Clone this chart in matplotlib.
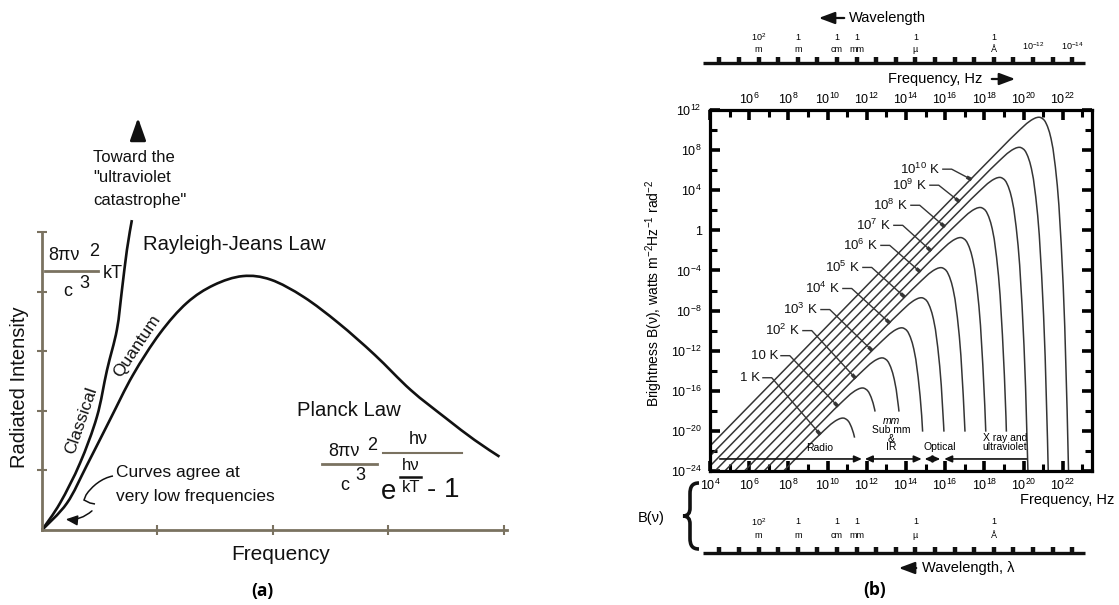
import numpy as np
import matplotlib
matplotlib.use("Agg")
import matplotlib.pyplot as plt
import matplotlib.transforms as mtransforms
from matplotlib.path import Path
from matplotlib.patches import PathPatch
from matplotlib.ticker import NullFormatter, NullLocator

plt.rcParams['font.family'] = ['Liberation Sans', 'DejaVu Sans']
plt.rcParams['mathtext.fontset'] = 'custom'
plt.rcParams['mathtext.rm'] = 'Liberation Sans'
plt.rcParams['mathtext.it'] = 'Liberation Sans:italic'
plt.rcParams['mathtext.bf'] = 'Liberation Sans:bold'
plt.rcParams['mathtext.default'] = 'regular'

# ---------------- data: panel (a) ----------------
classical_freq = [0.0, 0.156, 0.329, 0.476, 0.563, 0.649, 0.693, 0.736, 0.779]
classical_intensity = [0.0, 0.45, 1.12, 1.90, 2.68, 3.36, 4.03, 4.70, 5.20]
quantum_freq = [0.0, 0.216, 0.390, 0.589, 0.788, 1.022, 1.255, 1.489, 1.740,
                1.983, 2.268, 2.571, 2.883, 3.195, 3.498, 3.749, 3.965]
quantum_intensity = [0.0, 0.45, 1.09, 1.85, 2.60, 3.30, 3.81, 4.11, 4.26,
                     4.20, 3.91, 3.47, 2.94, 2.35, 1.88, 1.51, 1.23]
a_xticks = [1, 2, 3, 4]
a_yticks = [1, 2, 3, 4, 5]

# ---------------- data: panel (b) ----------------
temp_labels = ['1 K', '10 K', r'$10^2$ K', r'$10^3$ K', r'$10^4$ K', r'$10^5$ K',
               r'$10^6$ K', r'$10^7$ K', r'$10^8$ K', r'$10^9$ K', r'$10^{10}$ K']
peak_log_freq = [10.77, 11.77, 12.77, 13.77, 14.77, 15.77, 16.77, 17.77, 18.77, 19.77, 20.77]
peak_log_B = [-18.72, -15.72, -12.72, -9.72, -6.72, -3.72, -0.72, 2.28, 5.28, 8.28, 11.28]
end_log_B = [-20.6, -18.0, -18.0, -20.0, -20.0, -20.0, -20.0, -20.0, -30.0, -30.0, -30.0]
# common curve shape read relative to each peak (log10 offsets)
shape_dlogf = [-17.0, -3.0, -1.45, -0.97, -0.75, -0.61, -0.45, -0.37, -0.27, -0.15,
               -0.05, 0.0, 0.07, 0.15, 0.25, 0.33, 0.39, 0.45, 0.55, 0.63, 0.73,
               0.85, 0.95, 1.03, 1.15, 1.25, 1.33, 1.39, 1.45, 1.50, 1.55]
shape_dlogB = [-33.25, -5.25, -2.17, -1.27, -0.87, -0.62, -0.39, -0.28, -0.17, -0.06,
               -0.01, 0.0, -0.01, -0.08, -0.22, -0.42, -0.66, -0.92, -1.50, -2.13, -3.14,
               -4.94, -6.82, -8.75, -12.72, -16.77, -20.88, -25.02, -29.19, -33.38, -37.58]
label_log_freq = [6.55, 7.47, 8.59, 9.51, 10.63, 11.65, 12.57, 13.23, 14.10, 15.07, 15.73]
label_log_B = [-14.7, -12.5, -10.0, -7.9, -5.8, -3.7, -1.5, 0.5, 2.5, 4.5, 6.1]
leader_end_log_freq = [9.6, 10.5, 11.4, 12.25, 13.15, 13.9, 14.7, 15.25, 15.95, 16.7, 17.3]
leader_end_log_B = [-20.3, -17.5, -14.7, -11.95, -9.2, -6.6, -4.1, -2.0, 0.4, 2.9, 5.1]

band_start_log_freq = [4.5, 11.9, 14.95, 15.95]
band_end_log_freq = [11.75, 14.8, 15.75, 20.15]
band_styles = ['-|>', '<|-|>', '<|-|>', '<|-']
band_arrow_log_B = -22.8

freq_label_exps = [4, 6, 8, 10, 12, 14, 16, 18, 20, 22]
freq_minor_exps = [5, 7, 9, 11, 13, 15, 17, 19, 21, 23]
top_freq_label_exps = [6, 8, 10, 12, 14, 16, 18, 20, 22]
b_ytick_exps = [12, 8, 4, 0, -4, -8, -12, -16, -20, -24]
b_ytick_labels = [r'$10^{12}$', r'$10^{8}$', r'$10^{4}$', '1', r'$10^{-4}$', r'$10^{-8}$',
                  r'$10^{-12}$', r'$10^{-16}$', r'$10^{-20}$', r'$10^{-24}$']
b_yminor_exps = [10, 6, 2, -2, -6, -10, -14, -18, -22]

wavelength_ticks_m = [1e4, 1e3, 1e2, 1e1, 1.0, 1e-1, 1e-2, 1e-3, 1e-4, 1e-5, 1e-6, 1e-7,
                      1e-8, 1e-9, 1e-10, 1e-11, 1e-12, 1e-13, 1e-14]
wl_label_values_m = [1e2, 1.0, 1e-2, 1e-3, 1e-6, 1e-10]
wl_label_upper = [r'$10^2$', '1', '1', '1', '1', '1']
wl_label_lower = ['m', 'm', 'cm', 'mm', 'µ', 'Å']
wl_extra_top_values_m = [1e-12, 1e-14]
wl_extra_top_labels = [r'$10^{-12}$', r'$10^{-14}$']
SPEED_OF_LIGHT = 3.0e8

# ---------------- figure ----------------
W, H = 1119, 605
fig = plt.figure(figsize=(W / 100, H / 100), dpi=100)
pix = mtransforms.Affine2D().scale(1.0 / W, -1.0 / H).translate(0, 1) + fig.transFigure


def fx(x):
    return x / W


def fy(y):
    return 1 - y / H


def smooth_path(xs, ys):
    P = np.column_stack([xs, ys]).astype(float)
    n = len(P)
    verts = [P[0]]
    codes = [Path.MOVETO]
    for i in range(n - 1):
        p0 = P[i - 1] if i > 0 else P[i]
        p1, p2 = P[i], P[i + 1]
        p3 = P[i + 2] if i + 2 < n else P[i + 1]
        verts += [p1 + (p2 - p0) / 6.0, p2 - (p3 - p1) / 6.0, p2]
        codes += [Path.CURVE4] * 3
    return Path(verts, codes)


BROWN = '#7a7260'
INK = '#111111'

# ================= panel (a) =================
ax_a = fig.add_axes([fx(42), fy(530), (507 - 42) / W, (530 - 232) / H])
ax_a.set_xlim(0, 4.03)
ax_a.set_ylim(0, 5)
ax_a.patch.set_visible(False)
for s in ['top', 'right']:
    ax_a.spines[s].set_visible(False)
for s in ['left', 'bottom']:
    ax_a.spines[s].set_color(BROWN)
    ax_a.spines[s].set_linewidth(2.0)
ax_a.set_xticks(a_xticks)
ax_a.set_yticks(a_yticks)
ax_a.tick_params(direction='inout', length=7, width=1.5, color=BROWN,
                 labelbottom=False, labelleft=False)
ax_a.add_patch(PathPatch(smooth_path(classical_freq, classical_intensity), fill=False,
                         lw=1.9, ec=INK, clip_on=False, transform=ax_a.transData))
ax_a.add_patch(PathPatch(smooth_path(quantum_freq, quantum_intensity), fill=False,
                         lw=1.9, ec=INK, clip_on=False, transform=ax_a.transData))

fig.text(20, 387, 'Radiated Intensity', transform=pix, rotation=90, ha='center',
         va='center', fontsize=14.5, color=INK)
fig.text(281, 555, 'Frequency', transform=pix, ha='center', va='center', fontsize=15,
         color=INK)
fig.text(143, 245, 'Rayleigh-Jeans Law', transform=pix, ha='left', va='center',
         fontsize=14.6, color=INK)
fig.text(297, 410, 'Planck Law', transform=pix, ha='left', va='center', fontsize=14.6,
         color=INK)
for txt, yy in [('Toward the', 157), ('"ultraviolet', 178), ('catastrophe"', 200)]:
    fig.text(93, yy, txt, transform=pix, ha='left', va='center', fontsize=12, color=INK)
fig.text(116, 473, 'Curves agree at', transform=pix, ha='left', va='center',
         fontsize=12.5, color=INK)
fig.text(116, 496, 'very low frequencies', transform=pix, ha='left', va='center',
         fontsize=12.5, color=INK)
fig.text(81, 421, 'Classical', transform=pix, ha='center', va='center', rotation=71,
         rotation_mode='anchor', fontsize=12.5, color=INK)
fig.text(137, 346, 'Quantum', transform=pix, ha='center', va='center', rotation=56,
         rotation_mode='anchor', fontsize=12.5, color=INK)

# arrow toward the ultraviolet catastrophe
fig.patches.append(matplotlib.patches.FancyArrowPatch(
    (138, 143), (138, 115), transform=pix, arrowstyle='-|>,head_length=0.85,head_width=0.3',
    mutation_scale=16, lw=2.0, color=INK))

# squiggle arrow from "Curves agree"
squig = Path([(113, 476), (102, 478), (92, 486), (86, 495), (84, 500), (90, 503), (95, 504)],
             [Path.MOVETO, Path.CURVE4, Path.CURVE4, Path.CURVE4, Path.LINETO, Path.LINETO,
              Path.LINETO])
fig.patches.append(PathPatch(squig, fill=False, lw=1.1, ec=INK, transform=pix))
fig.patches.append(matplotlib.patches.FancyArrowPatch(
    (94, 509), (63, 519), transform=pix, connectionstyle='arc3,rad=-0.25',
    arrowstyle='-|>,head_length=0.5,head_width=0.22', mutation_scale=14, lw=1.1, color=INK))

# left formula: 8 pi nu^2 / c^3 kT
fig.text(64, 256, '8πν', transform=pix, ha='center', va='center', fontsize=13, color=INK)
fig.text(94, 251, '2', transform=pix, ha='center', va='center', fontsize=13, color=INK)
fig.lines.append(plt.Line2D([45, 98], [271, 271], transform=pix, color=BROWN, lw=2.0))
fig.text(68, 291, 'c', transform=pix, ha='center', va='center', fontsize=13, color=INK)
fig.text(84, 283, '3', transform=pix, ha='center', va='center', fontsize=13, color=INK)
fig.text(113, 273, 'kT', transform=pix, ha='center', va='center', fontsize=13, color=INK)

# right formula: Planck
fig.text(344, 451, '8πν', transform=pix, ha='center', va='center', fontsize=13, color=INK)
fig.text(372, 446, '2', transform=pix, ha='center', va='center', fontsize=13, color=INK)
fig.lines.append(plt.Line2D([322, 377], [464, 464], transform=pix, color=BROWN, lw=2.0))
fig.text(345, 485, 'c', transform=pix, ha='center', va='center', fontsize=13, color=INK)
fig.text(360, 475, '3', transform=pix, ha='center', va='center', fontsize=13, color=INK)
fig.text(418, 440, 'hν', transform=pix, ha='center', va='center', fontsize=13, color=INK)
fig.lines.append(plt.Line2D([383, 462], [453, 453], transform=pix, color=BROWN, lw=1.5))
fig.text(389, 492, 'e', transform=pix, ha='center', va='center', fontsize=20, color=INK)
fig.text(411, 466, 'hν', transform=pix, ha='center', va='center', fontsize=12, color=INK)
fig.lines.append(plt.Line2D([400, 421], [477, 477], transform=pix, color=INK, lw=1.8))
fig.text(411, 487, 'kT', transform=pix, ha='center', va='center', fontsize=12, color=INK)
fig.text(443, 490, '- 1', transform=pix, ha='center', va='center', fontsize=20, color=INK)

fig.text(262, 591, '(a)', transform=pix, ha='center', va='center', fontsize=12.5,
         fontweight='bold', family=['Open Sans', 'DejaVu Sans'])

# ================= panel (b) =================
ax_b = fig.add_axes([fx(710), fy(471), (1092 - 710) / W, (471 - 110) / H])
ax_b.set_xscale('log')
ax_b.set_yscale('log')
CURVE = '#353535'

dlf = np.array(shape_dlogf)
dlb = np.array(shape_dlogB)
for k in range(len(temp_labels)):
    lf = peak_log_freq[k] + dlf
    lb = peak_log_B[k] + dlb
    below = np.where((dlf > 0) & (lb < end_log_B[k]))[0]
    if len(below):
        i = below[0]
        t = (end_log_B[k] - lb[i - 1]) / (lb[i] - lb[i - 1])
        xe = lf[i - 1] + t * (lf[i] - lf[i - 1])
        lf = np.append(lf[:i], xe)
        lb = np.append(lb[:i], end_log_B[k])
    ax_b.plot(10.0 ** lf, 10.0 ** lb, color=CURVE, lw=1.1)

PXX, PXY = 382 / 19.49, 361 / 36.0
for k in range(len(temp_labels)):
    lx, ly = label_log_freq[k], label_log_B[k]
    ex, ey = leader_end_log_freq[k], leader_end_log_B[k]
    ax_b.text(10.0 ** lx, 10.0 ** ly, temp_labels[k], ha='right', va='center',
              fontsize=9.5, color=INK)
    kx = lx + 0.6
    ax_b.plot(10.0 ** np.array([lx + 0.15, kx, ex]), 10.0 ** np.array([ly, ly, ey]),
              color=CURVE, lw=1.0)
    ddx, ddy = (ex - kx) * PXX, (ey - ly) * PXY
    L = np.hypot(ddx, ddy)
    ux, uy = ddx / L, ddy / L
    ax_b.plot([10.0 ** (ex - ux * 4.5 / PXX), 10.0 ** (ex + ux * 1.0 / PXX)],
              [10.0 ** (ey - uy * 4.5 / PXY), 10.0 ** (ey + uy * 1.0 / PXY)],
              color=CURVE, lw=2.6, solid_capstyle='butt')

for s, e, st in zip(band_start_log_freq, band_end_log_freq, band_styles):
    ax_b.annotate('', xy=(10.0 ** e, 10.0 ** band_arrow_log_B),
                  xytext=(10.0 ** s, 10.0 ** band_arrow_log_B),
                  arrowprops=dict(arrowstyle=st + ',head_length=0.45,head_width=0.2',
                                  mutation_scale=10, lw=1.2, color=INK,
                                  shrinkA=0, shrinkB=0))
BF = 7.5
ax_b.text(10.0 ** 9.61, 10.0 ** -21.7, 'Radio', ha='center', va='center', fontsize=BF)
ax_b.text(10.0 ** 13.25, 10.0 ** -19.0, 'mm', ha='center', va='center', fontsize=BF,
          style='italic')
ax_b.text(10.0 ** 13.25, 10.0 ** -19.9, 'Sub mm', ha='center', va='center', fontsize=BF)
ax_b.text(10.0 ** 13.25, 10.0 ** -20.8, '&', ha='center', va='center', fontsize=BF)
ax_b.text(10.0 ** 13.25, 10.0 ** -21.6, 'IR', ha='center', va='center', fontsize=BF)
ax_b.text(10.0 ** 15.73, 10.0 ** -21.6, 'Optical', ha='center', va='center', fontsize=BF)
ax_b.text(10.0 ** 19.05, 10.0 ** -20.7, 'X ray and', ha='center', va='center', fontsize=BF)
ax_b.text(10.0 ** 19.05, 10.0 ** -21.6, 'ultraviolet', ha='center', va='center', fontsize=BF)

ax_b.set_xlim(1e4, 10 ** 23.49)
ax_b.set_ylim(1e-24, 1e12)
ax_b.set_xticks(10.0 ** np.array(freq_label_exps),
                labels=[r'$10^{%d}$' % e for e in freq_label_exps])
ax_b.set_xticks(10.0 ** np.array(freq_minor_exps), minor=True)
ax_b.set_yticks(10.0 ** np.array(b_ytick_exps), labels=b_ytick_labels)
ax_b.set_yticks(10.0 ** np.array(b_yminor_exps), minor=True)
ax_b.xaxis.set_minor_formatter(NullFormatter())
ax_b.yaxis.set_minor_formatter(NullFormatter())
ax_b.tick_params(which='major', direction='in', length=7, width=2.6, top=True, right=True,
                 labelsize=9, pad=5)
ax_b.tick_params(which='minor', direction='in', length=5, width=2.2, top=True, right=True)
ax_b.tick_params(axis='y', which='major', pad=6)
for s in ax_b.spines.values():
    s.set_linewidth(2.3)

secax = ax_b.secondary_xaxis('top')
secax.set_xticks(10.0 ** np.array(top_freq_label_exps),
                 labels=[r'$10^{%d}$' % e for e in top_freq_label_exps])
secax.xaxis.set_minor_locator(NullLocator())
secax.tick_params(length=0, labelsize=9, pad=2)
secax.spines['top'].set_visible(False)

fig.text(654, 293, r'Brightness B($\nu$), watts m$^{-2}$Hz$^{-1}$ rad$^{-2}$', transform=pix,
         rotation=90, ha='center', va='center', fontsize=10)

# wavelength bars (x in frequency data, y in pixels)
bx = mtransforms.blended_transform_factory(ax_b.transData, pix)
wl_nu = SPEED_OF_LIGHT / np.array(wavelength_ticks_m)
for ybar in (63, 553):
    ax_b.plot([10 ** 3.64, 10 ** 23.13], [ybar, ybar], transform=bx, color=INK, lw=2.4,
              clip_on=False, solid_capstyle='butt')
    ax_b.vlines(wl_nu, ybar - 6, ybar, transform=bx, colors=INK, lw=3.2, clip_on=False)
for v, up, lo in zip(wl_label_values_m, wl_label_upper, wl_label_lower):
    nu = SPEED_OF_LIGHT / v
    for yu, yl in ((37, 49), (522, 535)):
        ax_b.text(nu, yu, up, transform=bx, ha='center', va='center', fontsize=6.5)
        ax_b.text(nu, yl, lo, transform=bx, ha='center', va='center', fontsize=6.5)
for v, lab in zip(wl_extra_top_values_m, wl_extra_top_labels):
    ax_b.text(SPEED_OF_LIGHT / v, 46, lab, transform=bx, ha='center', va='center',
              fontsize=6.5)

# axis titles around panel b
fig.text(849, 18, 'Wavelength', transform=pix, ha='left', va='center', fontsize=10.5)
fig.patches.append(matplotlib.patches.FancyArrowPatch(
    (847, 18), (816, 18), transform=pix, arrowstyle='-|>,head_length=0.8,head_width=0.3',
    mutation_scale=12, lw=1.6, color=INK))
fig.text(888, 79, 'Frequency, Hz', transform=pix, ha='left', va='center', fontsize=10.5)
fig.patches.append(matplotlib.patches.FancyArrowPatch(
    (989, 79), (1018, 79), transform=pix, arrowstyle='-|>,head_length=0.8,head_width=0.3',
    mutation_scale=12, lw=1.6, color=INK))
fig.text(1020, 500, 'Frequency, Hz', transform=pix, ha='left', va='center', fontsize=10.5)
fig.text(922, 568, 'Wavelength, λ', transform=pix, ha='left', va='center', fontsize=10.5)
fig.patches.append(matplotlib.patches.FancyArrowPatch(
    (919, 568), (896, 568), transform=pix, arrowstyle='-|>,head_length=0.8,head_width=0.3',
    mutation_scale=12, lw=1.6, color=INK))
fig.text(651, 518, 'B(ν)', transform=pix, ha='center', va='center', fontsize=10.5)
brace = Path([(699, 483), (692, 483), (690, 487), (690, 494), (690, 508),
              (690, 513), (688, 516), (683, 516),
              (688, 516), (690, 519), (690, 524), (690, 538),
              (690, 545), (692, 549), (699, 549)],
             [Path.MOVETO, Path.CURVE4, Path.CURVE4, Path.CURVE4, Path.LINETO,
              Path.CURVE4, Path.CURVE4, Path.CURVE4,
              Path.CURVE4, Path.CURVE4, Path.CURVE4, Path.LINETO,
              Path.CURVE4, Path.CURVE4, Path.CURVE4])
fig.patches.append(PathPatch(brace, fill=False, lw=2.6, ec=INK, transform=pix))
fig.text(875, 590, '(b)', transform=pix, ha='center', va='center', fontsize=12.5,
         fontweight='bold', family=['Open Sans', 'DejaVu Sans'])

fig.savefig('out.png', dpi=100)
